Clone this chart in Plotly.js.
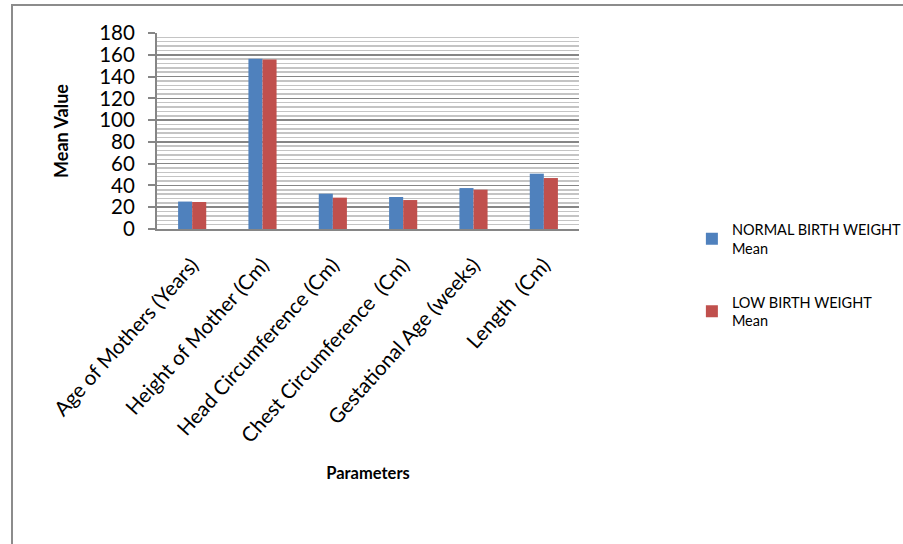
<!DOCTYPE html>
<html>
<head>
<meta charset="utf-8">
<script src="https://cdn.plot.ly/plotly-3.0.1.min.js"></script>
<style>html,body{margin:0;padding:0;background:#fff;}#chart{width:903px;height:544px;}</style>
</head>
<body>
<div id="chart"></div>
<script>
var categories = [
  "Age of Mothers (Years)",
  "Height of Mother (Cm)",
  "Head Circumference (Cm)",
  "Chest Circumference \u00a0(Cm)",
  "Gestational Age (weeks)",
  "Length \u00a0(Cm)"
];
var normalMean = [25.2, 156.3, 32.4, 29.4, 37.6, 50.8];
var lowMean = [24.8, 155.6, 28.8, 26.6, 36.1, 46.8];
var seriesNames = ["NORMAL BIRTH WEIGHT<br>Mean", "LOW BIRTH WEIGHT<br>Mean"];
var yTicks = [0, 20, 40, 60, 80, 100, 120, 140, 160, 180];

var fontFam = "Lato, 'Open Sans', sans-serif";

var data = [
  {type: "bar", x: categories, y: normalMean, name: seriesNames[0], legendgroup: "a",
   marker: {color: "#4F81BD", line: {width: 0}}},
  {type: "bar", x: categories, y: lowMean, name: seriesNames[1], legendgroup: "b",
   marker: {color: "#C0504D", line: {width: 0}}}
];

var layout = {
  width: 903, height: 544,
  margin: {l: 157, r: 324, t: 33, b: 315, autoexpand: false},
  paper_bgcolor: "#fff", plot_bgcolor: "#fff",
  font: {family: fontFam, color: "#000"},
  barmode: "group",
  bargap: 0.6,
  bargroupgap: 0,
  showlegend: true,
  legend: {
    x: 1.2675, xanchor: "left", y: 0.08, yanchor: "top",
    font: {family: fontFam, size: 14.5, color: "#000"},
    tracegroupgap: 32, itemwidth: 30, traceorder: "grouped",
    bgcolor: "rgba(0,0,0,0)"
  },
  xaxis: {
    type: "category",
    tickangle: -48,
    tickfont: {family: fontFam, size: 20.5, color: "#000"},
    ticklabelstandoff: 14,
    showgrid: false,
    showline: true, linecolor: "#868686", linewidth: 2,
    ticks: "", automargin: false,
    title: {text: "<b>Parameters</b>", font: {family: fontFam, size: 16.5, color: "#000"}, standoff: 22}
  },
  yaxis: {
    range: [0, 180],
    tickvals: yTicks,
    ticktext: yTicks.map(String),
    tickfont: {family: fontFam, size: 20.5, color: "#000"},
    ticklabelstandoff: 9,
    showgrid: true, gridcolor: "#868686", gridwidth: 1.5,
    minor: {dtick: 4, showgrid: true, gridcolor: "#c4c4c4", gridwidth: 1.5, ticks: ""},
    zeroline: false,
    showline: true, linecolor: "#868686", linewidth: 2,
    ticks: "outside", ticklen: 7, tickcolor: "#868686", tickwidth: 2,
    automargin: false,
    title: {text: "<b>Mean Value</b>", font: {family: fontFam, size: 18, color: "#000"}, standoff: 26}
  },
  shapes: [
    {type: "rect", xref: "paper", yref: "paper", x0: -0.3436, x1: 1.8, y0: -1.7, y1: 1.1429,
     line: {color: "#8c8c8c", width: 2}, fillcolor: "rgba(0,0,0,0)", layer: "below"}
  ]
};

Plotly.newPlot("chart", data, layout, {displayModeBar: false, staticPlot: true});
</script>
</body>
</html>
